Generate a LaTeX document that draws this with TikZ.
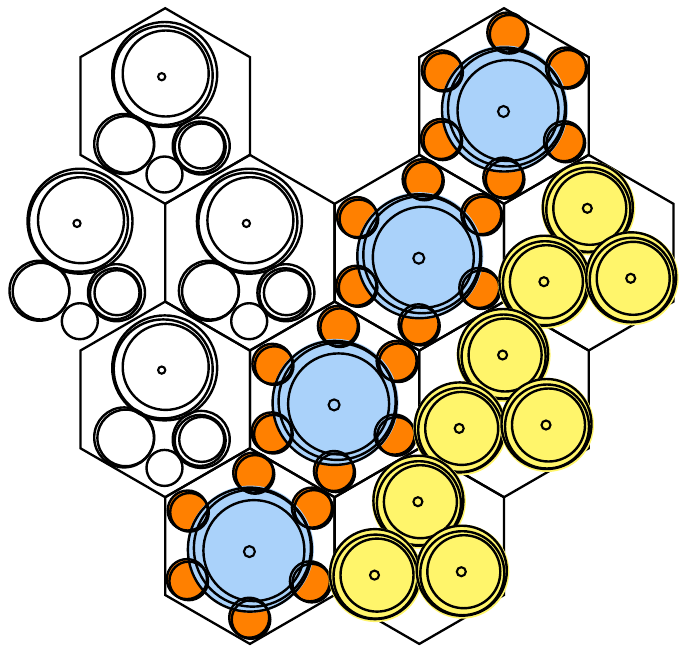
\documentclass[tikz,border=0pt]{standalone}
\definecolor{cblue}{RGB}{170,210,250}
\definecolor{corange}{RGB}{255,128,0}
\definecolor{cyellow}{RGB}{255,245,107}
\newcommand\hexcell[2]{\draw[hexline] (#1,#2) +(0,-97.8) -- +(84.7,-48.9) -- +(84.7,48.9) -- +(0,97.8) -- +(-84.7,48.9) -- +(-84.7,-48.9) -- cycle;}
\newcommand\whitegroup[2]{%
\begin{scope}[shift={(#1,#2)}]
 \draw[ring] (-0.5,-31.5) circle (52.5pt);
 \draw[ring] (-2,-30.5) circle (49.5pt);
 \draw[ring] (0.5,-32.5) circle (43pt);
 \draw[dotline] (-3.5,-29.3) circle (3.6pt);
 \draw[ring] (-41,38) circle (30pt);
 \draw[ring] (-39.5,38.5) circle (28.3pt);
 \draw[ring] (36,40) circle (28.5pt);
 \draw[ring] (35,41) circle (25.5pt);
 \draw[ring] (36.5,40) circle (22.5pt);
 \draw[ring] (-0.7,68.5) circle (18pt);
\end{scope}}
\newcommand\bluegroup[2]{%
\begin{scope}[shift={(#1,#2)}]
 \foreach \a/\b in {3.3/-73.5,-62.2/-35.6,62/-38.5,-63/33,60/35.2,-0.7/71.6}{
   \fill[corange] (\a+1.8,\b+1.8) circle (20pt);
   \fill[corange] (\a,\b) circle (20pt);
 }
 \fill[cblue] (0.5,3) circle (63.5pt);
 \foreach \a/\b in {3.3/-73.5,-62.2/-35.6,62/-38.5,-63/33,60/35.2,-0.7/71.6}{
   \draw[ring] (\a,\b) circle (20pt);
   \draw[ring] (\a+1.8,\b+1.8) circle (19.3pt);
 }
 \draw[ring] (0,3.5) circle (62pt);
 \draw[ring] (2.5,2) circle (58.5pt);
 \draw[ring] (4,4.5) circle (50.5pt);
 \draw[dotline] (-0.5,5.5) circle (5.5pt);
\end{scope}}
\newcommand\yobj[2]{%
 \fill[cyellow] (#1+1,#2) circle (47pt);
 \draw[ring] (#1+0.5,#2-1) circle (45pt);
 \draw[ring] (#1+1,#2+1.5) circle (42pt);
 \draw[ring] (#1+2.5,#2) circle (36.5pt);
 \draw[dotline] (#1,#2) circle (4.5pt);}
\newcommand\yellowgroup[2]{%
\begin{scope}[shift={(#1,#2)}]
 \yobj{-1.4}{-44.4}
 \yobj{-44.8}{29}
 \yobj{42}{25.6}
\end{scope}}
\begin{document}
\begin{tikzpicture}[x=1pt,y=-1pt,
  hexline/.style={line width=2.3pt, line join=miter},
  ring/.style={line width=2.4pt},
  dotline/.style={line width=2.1pt}]
\useasboundingbox (0,0) rectangle (679,646);
% hexagon outlines
\hexcell{165.2}{106}
\hexcell{504}{106}
\hexcell{249.9}{252.7}
\hexcell{419.3}{252.7}
\hexcell{588.7}{252.7}
\hexcell{165.2}{399.4}
\hexcell{334.6}{399.4}
\hexcell{504}{399.4}
\hexcell{249.9}{546.1}
\hexcell{419.3}{546.1}
% white packings
\whitegroup{165.2}{106}
\whitegroup{80.5}{252.7}
\whitegroup{249.9}{252.7}
\whitegroup{165.2}{399.4}
% blue/orange packings
\bluegroup{504}{106}
\bluegroup{419.3}{252.7}
\bluegroup{334.6}{399.4}
\bluegroup{249.9}{546.1}
% yellow packings
\yellowgroup{588.7}{252.7}
\yellowgroup{504}{399.4}
\yellowgroup{419.3}{546.1}
\end{tikzpicture}
\end{document}
